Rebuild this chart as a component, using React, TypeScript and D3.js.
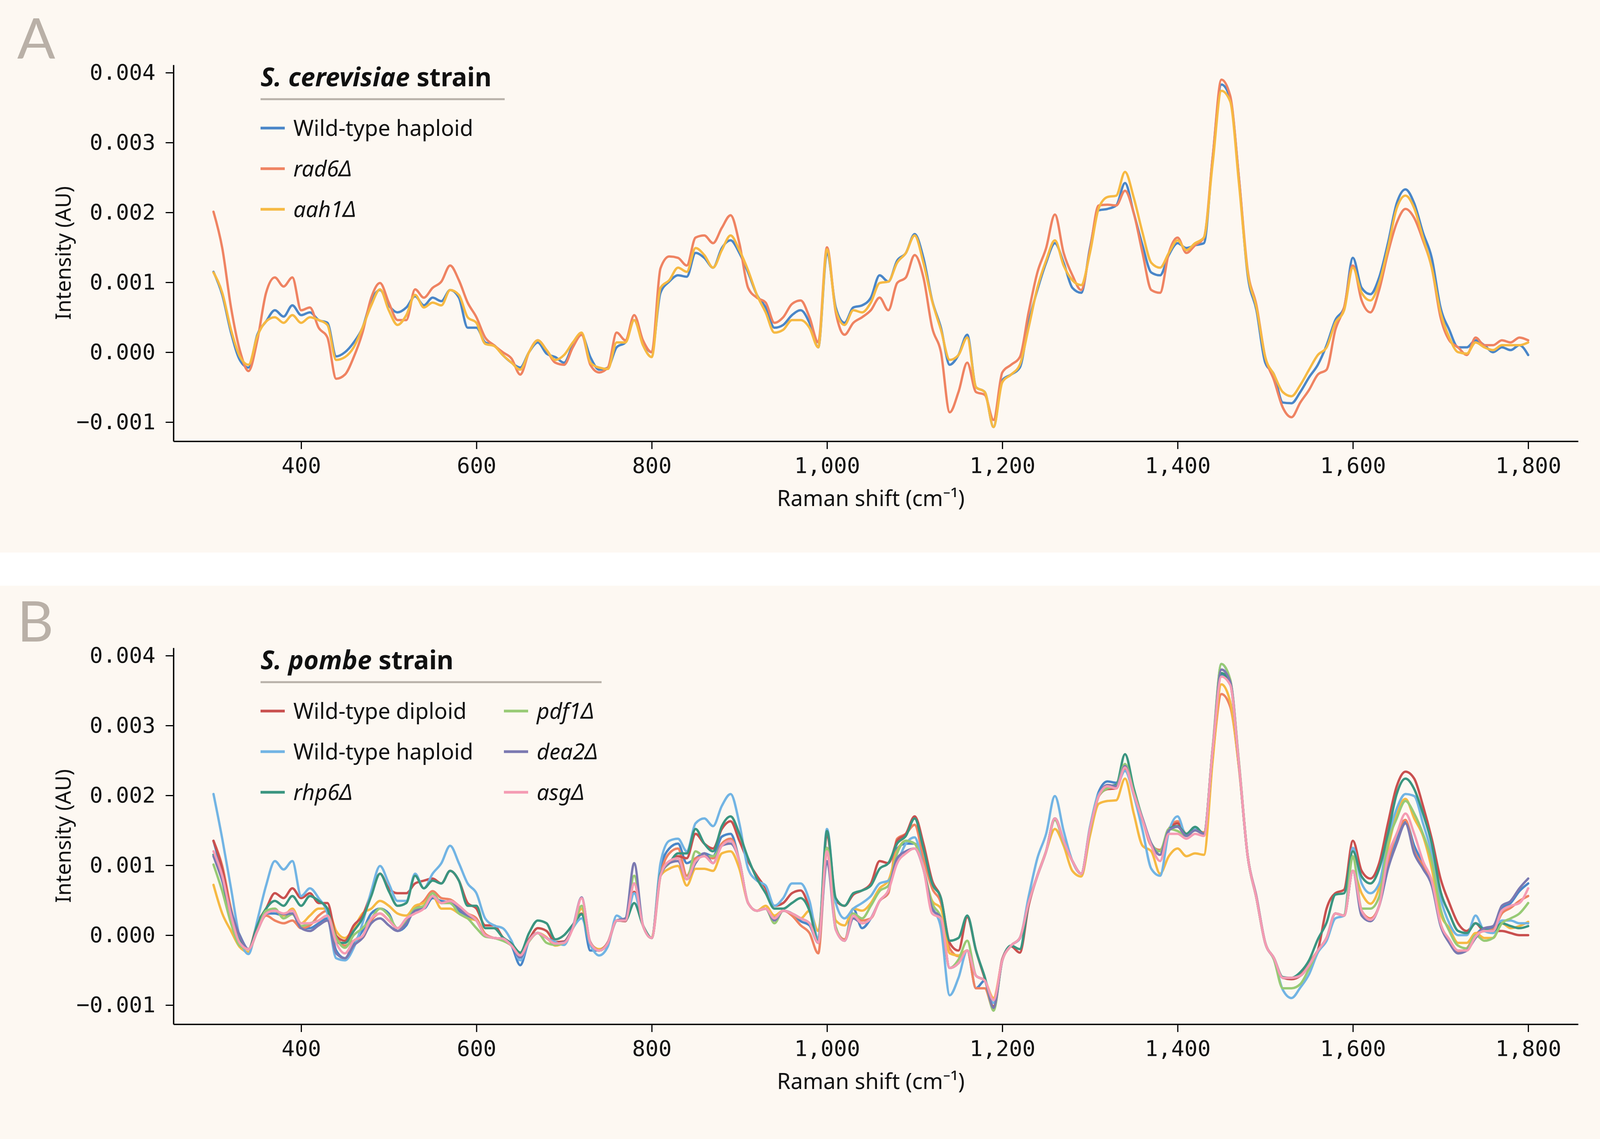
import React, { useEffect, useRef } from 'react';
import * as d3 from 'd3';

const WIDTH = 4167;
const HEIGHT = 2917;

// all intensities below are in units of 1e-4 AU
const AU = 1e-4;

// Raman shift grid (cm^-1), 300 .. 1800 every 10
const ramanShift = d3.range(300, 1801, 10);

const shiftTicks = [400, 600, 800, 1000, 1200, 1400, 1600, 1800];
const intensityTicks = [-0.001, 0, 0.001, 0.002, 0.003, 0.004];

// ---- S. cerevisiae ----
const cerWildHaploid = [
  11.5, 8.2, 2.8, -1.1, -2.2, 2.5, 4.4, 6.0, 5.1, 6.7,
  5.3, 5.7, 4.6, 4.2, -0.6, 0, 1.4, 3.5, 7.4, 8.9,
  6.7, 5.7, 6.4, 8.0, 6.7, 7.8, 7.3, 8.9, 7.8, 3.5,
  3.5, 1.4, 1.0, -0.4, -1.5, -2.2, 0, 1.4, -0.2, -0.7,
  -1.5, 1.0, 2.5, -0.7, -2.5, -2.2, 0.7, 1.4, 4.6, 1.4,
  0, 8.5, 10.1, 11.0, 10.8, 14.2, 13.5, 12.1, 14.9, 16.0,
  14.2, 11.4, 8.2, 6.4, 3.5, 3.9, 5.3, 6.0, 4.2, 0.7,
  14.2, 6.4, 4.2, 6.4, 6.7, 7.8, 11.0, 10.1, 13.1, 14.2,
  16.9, 13.5, 7.4, 3.5, -1.8, -0.4, 2.5, -5.0, -5.7, -10.7,
  -4.0, -3.2, -2.2, 4.2, 8.9, 12.8, 15.6, 12.8, 9.2, 8.5,
  14.9, 20.3, 20.5, 21.0, 24.2, 19.9, 15.3, 11.4, 11.0, 13.9,
  15.6, 14.9, 15.3, 15.6, 27.8, 38.3, 36.3, 24.9, 11.0, 6.0,
  -1.5, -3.2, -7.2, -7.3, -5.7, -3.6, -1.8, 1.0, 4.6, 6.4,
  13.5, 9.2, 8.3, 10.7, 15.6, 21.3, 23.3, 21.3, 17.1, 13.5,
  6.4, 3.2, 0.7, 0.7, 1.7, 1.0, 0, 0.7, 0.3, 1.0, -0.4,
];

const cerRad6 = [
  20.1, 14.9, 6.4, 0.3, -2.7, 1.7, 8.5, 10.7, 9.4, 10.7,
  6.0, 6.4, 3.5, 2.1, -3.8, -3.2, -0.7, 2.8, 7.8, 9.9,
  7.1, 4.6, 4.6, 9.0, 7.8, 9.2, 10.1, 12.4, 10.3, 7.1,
  5.0, 2.1, 1.0, 0, -0.9, -3.2, 0, 1.7, 0.3, -1.5,
  -1.8, 0.7, 2.5, -1.8, -2.9, -2.2, 2.8, 1.7, 5.3, 1.7,
  0, 12.0, 13.7, 13.5, 12.4, 16.4, 16.7, 15.6, 17.8, 19.6,
  15.6, 9.2, 7.8, 7.1, 4.2, 5.0, 6.9, 7.4, 5.0, 1.4,
  15.0, 5.7, 2.5, 4.2, 5.0, 6.0, 7.8, 6.0, 9.9, 10.7,
  13.9, 10.7, 3.5, 0, -8.6, -5.7, -1.5, -5.7, -6.1, -9.7,
  -2.9, -1.8, -0.7, 5.7, 11.4, 14.9, 19.7, 14.2, 11.0, 8.9,
  14.6, 21.0, 21.1, 21.0, 23.1, 19.9, 14.2, 8.9, 8.5, 14.2,
  16.4, 14.2, 15.3, 16.4, 27.8, 39.0, 36.7, 24.9, 11.7, 6.7,
  -0.7, -4.0, -7.9, -9.3, -7.2, -5.4, -3.2, -2.5, 3.2, 6.4,
  12.4, 7.4, 5.7, 8.9, 14.2, 18.5, 20.5, 19.2, 16.0, 12.1,
  5.0, 1.7, 0.7, -0.4, 2.1, 1.0, 1.0, 1.7, 1.4, 2.1, 1.7,
];

const cerAah1 = [
  11.4, 8.5, 3.2, -0.6, -1.8, 2.3, 4.4, 5.0, 4.2, 5.3,
  4.2, 5.0, 4.6, 3.9, -1.1, -0.7, 0.7, 3.5, 6.7, 9.0,
  6.0, 3.9, 5.3, 8.2, 6.4, 7.1, 6.7, 8.9, 8.2, 5.0,
  4.2, 1.2, 0.9, -0.4, -1.5, -2.5, 0, 1.7, 0.3, -1.1,
  -0.4, 1.4, 2.8, -1.5, -2.2, -2.4, 1.4, 1.4, 4.6, 1.0,
  -0.7, 9.2, 10.3, 12.1, 11.5, 14.9, 13.9, 12.1, 14.6, 16.7,
  14.6, 11.7, 8.2, 5.7, 2.8, 3.2, 4.6, 4.6, 3.5, 0.7,
  14.7, 6.0, 3.9, 6.0, 5.7, 7.1, 9.9, 10.1, 12.8, 14.2,
  16.7, 12.8, 7.3, 3.2, -1.1, -0.4, 2.1, -5.0, -5.7, -10.7,
  -4.3, -3.2, -1.8, 3.5, 9.2, 13.1, 16.0, 12.4, 10.3, 9.6,
  14.2, 20.6, 22.2, 22.4, 25.8, 22.1, 17.1, 12.8, 12.1, 14.2,
  16.0, 14.6, 15.6, 16.4, 27.0, 37.4, 35.9, 24.2, 11.4, 6.4,
  -0.7, -3.2, -5.7, -6.3, -4.7, -2.5, -0.4, 0.7, 4.2, 6.0,
  12.1, 8.5, 7.4, 9.9, 14.9, 20.6, 22.4, 20.6, 16.4, 12.1,
  5.7, 2.1, 0, -0.2, 1.4, 0.7, 0.3, 1.0, 1.0, 1.0, 1.4,
];

// ---- S. pombe ----
const pomExtraBlue = [
  13.5, 8.8, 3.1, 0, -2.0, 0.6, 3.1, 3.1, 2.8, 3.1,
  1.0, 1.0, 1.7, 2.4, -2.2, -3.3, -1.1, 0.6, 3.1, 3.8,
  3.1, 0.6, 1.4, 3.8, 3.8, 5.3, 4.9, 4.6, 3.5, 2.8,
  2.1, 0, -0.4, -0.5, -1.5, -4.3, -0.8, 0.3, -0.4, -1.2,
  -1.1, 1.0, 3.0, -2.2, -2.2, -1.1, 2.1, 2.1, 7.4, 1.4,
  -0.4, 9.5, 12.4, 13.1, 10.3, 11.0, 11.7, 11.3, 14.1, 14.5,
  10.6, 4.6, 3.5, 3.8, 2.5, 3.5, 3.1, 2.0, 1.4, -1.1,
  12.5, 1.0, -0.8, 3.8, 1.0, 2.4, 4.9, 6.4, 12.4, 13.1,
  13.1, 9.5, 3.8, 2.4, -4.7, -4.0, -2.2, -7.6, -6.5, -10.4,
  -3.6, -1.5, -0.4, 4.6, 8.5, 12.0, 16.7, 13.5, 10.6, 8.8,
  15.2, 20.5, 22.0, 21.8, 24.2, 20.2, 16.7, 13.1, 11.5, 15.2,
  16.0, 14.2, 15.2, 14.5, 26.6, 37.3, 36.3, 24.5, 11.3, 5.3,
  -1.1, -3.3, -6.1, -6.1, -5.8, -4.3, -2.2, -0.4, 3.1, 2.8,
  9.2, 3.2, 2.0, 4.2, 9.5, 13.5, 16.3, 12.8, 10.2, 7.5,
  1.4, -0.8, -2.6, -1.9, 0, 1.0, 1.0, 3.8, 4.6, 6.3, 7.4,
];

const pomExtraOrange = [
  13.5, 9.9, 3.8, -0.8, -2.0, 0.6, 2.8, 2.1, 1.7, 2.1,
  1.0, 1.4, 2.8, 3.5, -0.1, -1.5, -0.8, -0.4, 2.1, 3.1,
  2.1, 1.0, 2.1, 3.8, 4.9, 6.3, 5.3, 5.1, 4.2, 3.1,
  2.4, 0.2, -0.4, -0.6, -1.5, -2.9, -0.8, 0.3, -0.4, -1.3,
  -1.1, 1.0, 3.8, -1.1, -2.2, -1.1, 2.1, 2.1, 7.4, 1.4,
  -0.4, 8.5, 11.7, 12.4, 8.5, 11.0, 11.3, 11.0, 13.1, 13.8,
  10.6, 4.6, 3.5, 3.8, 2.4, 3.5, 2.8, 1.4, 0.3, -2.6,
  12.0, 1.0, -0.6, 2.8, 2.1, 2.4, 4.9, 6.0, 13.8, 14.5,
  15.8, 11.0, 6.7, 4.6, -1.9, -3.0, -2.2, -7.6, -7.6, -10.6,
  -3.6, -1.5, -0.4, 4.6, 8.5, 12.0, 16.7, 13.5, 10.6, 8.8,
  15.2, 19.9, 20.9, 21.0, 23.8, 20.2, 16.5, 12.8, 12.2, 15.2,
  16.3, 14.5, 15.0, 14.7, 25.5, 34.5, 32.7, 24.0, 11.3, 5.5,
  -1.1, -3.3, -6.1, -6.1, -5.5, -4.0, -2.2, -0.4, 3.1, 2.8,
  9.2, 3.5, 2.4, 4.2, 10.5, 14.5, 16.5, 12.0, 10.0, 7.5,
  1.7, -0.8, -2.4, -1.9, 0.2, 0.6, 0.8, 3.1, 3.9, 4.9, 5.6,
];

const pomExtraYellow = [
  7.2, 3.1, 0.6, -1.7, -2.4, 1.0, 3.5, 3.5, 2.8, 3.8,
  1.7, 2.8, 3.8, 3.8, 0.6, -0.4, 1.0, 3.1, 3.8, 4.9,
  4.2, 3.1, 2.8, 4.2, 4.6, 5.6, 3.8, 3.8, 3.1, 2.4,
  2.1, 0, -0.4, -0.5, -1.4, -2.6, -0.8, 0.3, -0.3, -1.5,
  -1.0, 1.0, 3.8, -1.1, -2.0, -1.1, 2.1, 2.1, 7.4, 1.4,
  -0.4, 8.5, 9.5, 9.9, 7.1, 9.5, 9.5, 9.2, 11.7, 12.0,
  9.5, 4.6, 3.5, 4.2, 2.8, 3.5, 3.1, 2.4, 3.5, 0.6,
  12.0, 2.1, 1.4, 3.8, 3.5, 4.6, 6.7, 7.8, 12.0, 13.5,
  13.1, 9.5, 4.9, 3.8, -2.6, -2.9, -2.2, -5.8, -6.5, -9.0,
  -3.6, -1.5, -0.4, 4.6, 8.5, 12.0, 15.2, 12.8, 9.2, 8.4,
  14.2, 18.8, 19.2, 19.3, 22.4, 17.4, 12.8, 12.0, 8.8, 11.3,
  12.4, 11.3, 11.7, 11.5, 24.9, 35.9, 33.4, 24.0, 11.3, 5.3,
  -1.1, -3.3, -6.1, -6.1, -5.8, -4.3, -2.2, -0.4, 3.1, 2.8,
  9.2, 6.0, 4.5, 6.8, 12.4, 17.4, 19.5, 16.7, 14.2, 9.5,
  3.1, 1.0, -1.1, -1.1, 0.3, -0.4, -0.4, 1.7, 1.0, 1.3, 1.9,
];

const pomWildDiploid = [
  13.5, 9.5, 3.1, -0.8, -2.0, 1.7, 3.8, 6.0, 5.3, 6.7,
  5.3, 6.0, 4.6, 4.6, -0.1, -0.8, 1.4, 2.8, 6.0, 8.8,
  6.7, 6.0, 6.0, 7.4, 7.8, 8.1, 7.4, 9.2, 7.8, 4.6,
  3.8, 1.4, 1.4, -0.3, -1.3, -2.7, -0.6, 1.0, 0.6, -1.0,
  -0.9, 1.0, 3.1, -1.0, -2.2, -1.0, 2.1, 2.0, 6.2, 1.4,
  -0.4, 8.8, 10.3, 11.3, 11.0, 14.5, 13.1, 12.4, 15.2, 16.3,
  13.5, 10.6, 8.5, 6.7, 4.2, 4.6, 6.0, 6.4, 3.8, -1.0,
  14.5, 5.0, 4.2, 5.8, 6.4, 7.4, 10.6, 10.3, 13.5, 14.5,
  17.0, 13.1, 7.8, 5.3, -1.1, -2.2, 2.6, -2.2, -6.2, -10.2,
  -3.4, -1.6, -2.5, 4.2, 8.5, 12.0, 16.7, 13.5, 10.6, 8.8,
  15.2, 19.9, 20.9, 21.0, 24.0, 20.2, 16.5, 13.1, 12.0, 15.0,
  16.0, 14.2, 15.0, 14.5, 26.6, 38.0, 36.3, 24.5, 11.3, 5.3,
  -1.1, -3.3, -6.1, -6.3, -5.8, -4.3, -2.2, 3.8, 6.0, 6.5,
  13.5, 9.2, 8.1, 10.3, 16.0, 21.3, 23.4, 22.4, 18.5, 13.8,
  8.1, 4.6, 1.7, 0.6, 1.7, 0.6, 0.6, 0.6, 0.3, 0, 0,
];

const pomWildHaploid = [
  20.2, 13.8, 6.7, -0.4, -2.7, 2.1, 7.1, 10.6, 9.4, 10.6,
  5.6, 6.7, 5.3, 3.1, -3.3, -3.6, -1.8, 1.7, 6.3, 9.9,
  7.4, 4.9, 4.9, 8.8, 6.7, 8.8, 10.3, 12.8, 10.3, 7.4,
  6.0, 2.4, 1.4, 1.0, -0.8, -3.6, -0.8, 0.3, -0.4, -1.0,
  -1.4, 1.0, 2.4, -1.4, -2.9, -1.6, 2.8, 2.1, 6.0, 1.4,
  -0.4, 10.3, 13.5, 13.8, 12.0, 16.0, 16.7, 15.6, 18.5, 20.2,
  16.0, 9.5, 7.8, 7.1, 4.2, 5.3, 7.4, 7.4, 4.9, -0.5,
  15.2, 4.6, 2.4, 3.8, 4.6, 5.6, 7.4, 7.8, 10.3, 13.1,
  14.0, 9.5, 4.2, 1.0, -8.6, -6.1, -2.2, -5.8, -6.5, -9.7,
  -3.6, -1.5, -0.5, 5.5, 11.0, 14.5, 19.9, 14.9, 10.6, 8.8,
  15.5, 20.2, 21.2, 21.3, 23.5, 20.0, 15.0, 9.5, 8.5, 14.8,
  17.0, 14.2, 15.2, 14.5, 26.6, 38.8, 36.3, 24.5, 11.3, 5.3,
  -1.1, -3.5, -7.8, -9.0, -7.5, -5.6, -2.5, -0.8, 2.4, 2.8,
  12.5, 7.4, 6.0, 7.4, 13.8, 18.1, 20.2, 19.9, 16.0, 11.7,
  5.3, 1.7, 0, 0, 2.8, 0.6, 0.3, 2.1, 2.1, 1.7, 1.7,
];

const pomRhp6 = [
  11.5, 7.8, 2.4, -0.9, -2.0, 1.4, 3.8, 4.9, 4.2, 5.6,
  4.2, 5.6, 4.9, 3.8, -1.1, -1.1, 0.6, 2.4, 5.6, 8.8,
  6.3, 4.2, 4.6, 8.5, 6.7, 7.8, 7.4, 9.2, 7.8, 4.2,
  4.2, 1.0, 1.0, -0.3, -1.2, -2.5, 0.3, 2.1, 1.7, -0.6,
  0, 1.5, 3.0, -1.1, -2.2, -1.1, 2.1, 2.1, 4.6, 1.4,
  -0.4, 8.8, 10.3, 11.7, 11.7, 15.2, 13.1, 12.0, 15.6, 17.0,
  14.5, 11.0, 8.1, 6.0, 3.8, 3.8, 4.6, 5.3, 3.5, -1.0,
  14.9, 5.3, 4.2, 6.0, 6.4, 7.1, 9.5, 10.3, 13.1, 14.2,
  16.7, 12.4, 7.4, 5.3, -0.8, -0.4, 2.8, -2.2, -6.0, -10.4,
  -3.6, -1.5, -2.0, 4.6, 8.5, 12.0, 16.7, 13.5, 10.6, 8.8,
  15.2, 19.9, 21.3, 21.5, 25.9, 21.0, 16.7, 13.1, 12.0, 15.2,
  15.6, 14.5, 15.5, 14.5, 26.6, 37.5, 36.0, 24.5, 11.3, 5.3,
  -1.1, -3.3, -6.0, -6.1, -5.3, -3.6, -0.6, 1.8, 5.8, 6.0,
  12.0, 8.4, 7.4, 9.5, 14.5, 20.2, 22.4, 20.9, 17.4, 13.1,
  6.3, 3.1, 0.6, 0.3, 1.7, 0.8, 0.6, 1.7, 1.3, 1.0, 1.3,
];

const pomPdf1 = [
  10.1, 6.3, 1.7, -1.5, -2.0, 0.6, 3.5, 3.8, 2.4, 3.0,
  1.3, 1.7, 2.1, 2.8, -0.4, -1.8, 0, 1.0, 2.4, 3.8,
  2.8, 1.0, 2.1, 3.8, 4.2, 6.0, 4.6, 4.6, 3.1, 2.4,
  1.0, -0.2, -0.4, -0.8, -1.5, -2.9, -0.9, 0.3, -1.1, -1.4,
  -1.1, 1.0, 4.2, -1.1, -2.2, -1.1, 2.1, 2.4, 8.5, 1.4,
  -0.4, 8.5, 10.3, 11.0, 8.0, 12.0, 11.3, 11.3, 12.8, 13.5,
  10.6, 4.6, 3.5, 3.8, 1.7, 3.5, 3.1, 2.4, 1.7, -1.1,
  12.5, 1.2, -0.8, 3.1, 2.4, 4.2, 6.3, 7.1, 11.7, 13.5,
  13.1, 9.5, 4.6, 2.4, -4.7, -3.5, -0.8, -5.8, -6.5, -10.8,
  -3.6, -1.5, -0.4, 4.6, 8.5, 12.0, 16.5, 13.3, 10.6, 8.8,
  15.0, 19.9, 21.0, 21.3, 24.5, 20.5, 16.7, 13.1, 12.0, 15.2,
  14.9, 14.2, 15.0, 14.5, 26.8, 38.8, 36.6, 24.8, 11.3, 5.3,
  -1.1, -3.5, -7.6, -7.6, -7.0, -4.8, -2.2, -0.4, 3.1, 2.8,
  11.3, 3.8, 3.8, 5.5, 13.1, 16.7, 19.2, 17.4, 14.5, 10.6,
  3.8, 0.6, -1.5, -1.9, 0, -0.8, -0.4, 1.7, 2.4, 3.1, 4.6,
];

const pomDea2 = [
  11.3, 7.8, 3.5, -0.1, -2.0, 0.6, 3.1, 3.5, 3.0, 3.1,
  1.0, 0.6, 1.4, 2.1, -2.6, -3.3, -1.5, -0.4, 1.7, 2.4,
  1.4, 0.6, 1.7, 3.5, 3.8, 5.6, 4.6, 4.9, 3.8, 2.8,
  2.1, 0, -0.4, -0.5, -1.5, -3.2, -0.8, 0.3, -0.4, -1.2,
  -1.0, 1.2, 5.4, -1.1, -2.2, -1.1, 2.1, 2.4, 10.3, 1.4,
  -0.4, 8.5, 10.3, 10.6, 8.0, 10.3, 11.7, 10.3, 12.8, 13.1,
  10.6, 4.6, 3.5, 3.8, 2.1, 3.5, 3.1, 2.4, 1.7, -1.1,
  10.6, 0.8, -0.8, 2.4, 1.7, 2.4, 4.9, 6.4, 11.0, 12.0,
  12.4, 9.5, 3.8, 2.4, -4.7, -4.0, -2.2, -5.8, -6.5, -10.4,
  -3.6, -1.5, -0.4, 4.6, 8.5, 12.0, 16.7, 13.5, 10.6, 8.8,
  15.2, 19.9, 21.5, 21.3, 24.2, 20.2, 16.7, 13.1, 11.5, 15.0,
  15.5, 14.2, 15.0, 14.5, 26.6, 38.0, 36.3, 24.5, 11.3, 5.5,
  -1.1, -3.3, -6.1, -6.1, -5.8, -4.3, -2.2, -0.4, 3.1, 2.8,
  9.2, 2.8, 2.0, 4.2, 9.5, 13.1, 16.0, 11.7, 9.5, 7.1,
  1.4, -1.1, -2.6, -2.2, -0.4, 1.0, 1.3, 4.2, 4.9, 6.7, 8.1,
];

const pomAsg = [
  12.0, 8.5, 2.8, -1.1, -2.0, 0.6, 3.1, 3.5, 3.1, 3.5,
  1.7, 1.7, 2.1, 2.8, -1.1, -2.6, -0.8, -0.1, 2.4, 3.1,
  2.1, 1.0, 2.4, 3.1, 3.8, 5.6, 4.6, 4.9, 4.2, 3.1,
  2.1, 0, -0.4, -0.5, -1.5, -2.9, -0.8, 0.3, -0.4, -1.2,
  -1.1, 1.0, 5.3, -1.1, -2.2, -1.1, 2.1, 2.1, 7.4, 1.4,
  -0.4, 8.5, 10.6, 11.0, 8.0, 10.6, 11.3, 10.3, 12.8, 13.5,
  10.6, 4.6, 3.5, 3.8, 2.4, 3.5, 3.1, 2.4, 1.7, -1.1,
  12.0, 0.8, -0.8, 2.8, 1.7, 2.4, 4.9, 6.4, 10.3, 11.7,
  12.4, 9.5, 3.1, 2.4, -4.7, -4.0, -2.2, -5.8, -6.5, -9.3,
  -3.6, -1.5, -0.4, 4.6, 8.5, 12.0, 16.7, 13.5, 10.6, 8.8,
  15.2, 19.9, 21.3, 21.0, 24.0, 20.2, 16.5, 12.8, 10.6, 14.5,
  14.5, 13.8, 14.5, 14.2, 26.5, 37.0, 35.8, 24.5, 11.3, 5.3,
  -1.1, -3.3, -6.1, -6.1, -5.8, -4.3, -2.2, -0.4, 3.1, 2.8,
  9.2, 3.5, 2.2, 4.2, 11.3, 14.5, 17.4, 14.5, 10.6, 7.8,
  1.7, -0.6, -2.2, -2.2, -0.2, 0.6, 0.6, 3.5, 4.2, 4.6, 6.7,
];

interface Series {
  values: number[];
  color: string;
}

interface LegendItem {
  label: string;
  italic: boolean;
  color: string;
}

const BG = '#fdf8f2';
const RULE = '#b8b1a9';
const SANS = "'Noto Sans', 'Open Sans', sans-serif";
const MONO = "'DejaVu Sans Mono', 'Liberation Mono', monospace";

const panelA = {
  letter: 'A',
  titleItalic: 'S. cerevisiae',
  series: [
    { values: cerWildHaploid, color: '#4a86c8' },
    { values: cerRad6, color: '#ef8362' },
    { values: cerAah1, color: '#f6b943' },
  ] as Series[],
  legend: [
    [
      { label: 'Wild-type haploid', italic: false, color: '#4a86c8' },
      { label: 'rad6Δ', italic: true, color: '#ef8362' },
      { label: 'aah1Δ', italic: true, color: '#f6b943' },
    ],
  ] as LegendItem[][],
  ruleEnd: 1292,
};

const panelB = {
  letter: 'B',
  titleItalic: 'S. pombe',
  series: [
    { values: pomExtraBlue, color: '#4a86c8' },
    { values: pomExtraOrange, color: '#ef8362' },
    { values: pomExtraYellow, color: '#f6b943' },
    { values: pomWildDiploid, color: '#c9504f' },
    { values: pomWildHaploid, color: '#72b4e4' },
    { values: pomRhp6, color: '#3a9580' },
    { values: pomPdf1, color: '#98ca75' },
    { values: pomDea2, color: '#7b79b1' },
    { values: pomAsg, color: '#f59bb3' },
  ] as Series[],
  legend: [
    [
      { label: 'Wild-type diploid', italic: false, color: '#c9504f' },
      { label: 'Wild-type haploid', italic: false, color: '#72b4e4' },
      { label: 'rhp6Δ', italic: true, color: '#3a9580' },
    ],
    [
      { label: 'pdf1Δ', italic: true, color: '#98ca75' },
      { label: 'dea2Δ', italic: true, color: '#7b79b1' },
      { label: 'asgΔ', italic: true, color: '#f59bb3' },
    ],
  ] as LegendItem[][],
  ruleEnd: 1540,
};

type PanelDef = typeof panelA;

const Panel: React.FC<{ def: PanelDef; offset: number }> = ({ def, offset }) => {
  const xAxisRef = useRef<SVGGElement>(null);
  const yAxisRef = useRef<SVGGElement>(null);

  const x = d3.scaleLinear().domain([254.3, 1857]).range([444, 4040]);
  const y = d3.scaleLinear().domain([-0.001274, 0.004112]).range([1130, 166]);

  useEffect(() => {
    const gx = d3.select(xAxisRef.current);
    gx.selectAll('*').remove();
    gx.call(
      d3.axisBottom(x)
        .tickValues(shiftTicks)
        .tickFormat(d3.format(','))
        .tickSize(20)
        .tickPadding(21)
        .tickSizeOuter(0)
    );
    gx.attr('font-family', MONO).attr('font-size', 56);
    gx.select('.domain').attr('stroke-width', 3.5);
    gx.selectAll('.tick line').attr('stroke-width', 3);
    gx.selectAll('.tick text').attr('fill', '#111');

    const gy = d3.select(yAxisRef.current);
    gy.selectAll('*').remove();
    gy.call(
      d3.axisLeft(y)
        .tickValues(intensityTicks)
        .tickFormat(d3.format('.3f'))
        .tickSize(20)
        .tickPadding(26)
        .tickSizeOuter(0)
    );
    gy.attr('font-family', MONO).attr('font-size', 56);
    gy.select('.domain').attr('stroke-width', 3.5);
    gy.selectAll('.tick line').attr('stroke-width', 3);
    gy.selectAll('.tick text').attr('fill', '#111');
  }, []);

  const line = d3.line<number>()
    .x((_, i) => x(ramanShift[i]))
    .y(d => y(d * AU))
    .curve(d3.curveMonotoneX);

  return (
    <g transform={`translate(0,${offset})`}>
      <text x={44} y={150} fontFamily="Lato, 'Noto Sans', sans-serif" fontSize={144} fill="#b9b0a7">{def.letter}</text>

      {def.series.map((s, i) => (
        <path key={i} d={line(s.values) ?? ''} fill="none" stroke={s.color}
          strokeWidth={6} strokeLinejoin="round" strokeLinecap="round" />
      ))}

      <g ref={xAxisRef} transform="translate(0,1130)" />
      <g ref={yAxisRef} transform="translate(444,0)" />

      <text x={x(1050)} y={1296} textAnchor="middle" fontFamily={SANS} fontSize={56} fill="#111">
        Raman shift (cm⁻¹)
      </text>
      <text transform={`translate(160,648) rotate(-90)`} textAnchor="middle" dominantBaseline="central"
        fontFamily={SANS} fontSize={54} fill="#111">
        Intensity (AU)
      </text>

      <g fontFamily={SANS}>
        <text x={667} y={221} fontSize={66} fontWeight={700} fill="#111">
          <tspan fontStyle="italic">{def.titleItalic}</tspan> strain
        </text>
        <line x1={667} x2={def.ruleEnd} y1={254} y2={254} stroke={RULE} strokeWidth={5} />
        {def.legend.map((col, ci) => col.map((item, ri) => {
          const lx = 667 + ci * 623;
          const ly = 328 + ri * 104;
          return (
            <g key={`${ci}-${ri}`}>
              <line x1={lx} x2={lx + 62} y1={ly} y2={ly} stroke={item.color} strokeWidth={7} />
              <text x={lx + 84} y={ly + 20} fontSize={56} fill="#111"
                fontStyle={item.italic ? 'italic' : 'normal'}>{item.label}</text>
            </g>
          );
        }))}
      </g>
    </g>
  );
};

export default function App() {
  return (
    <div style={{ position: 'absolute', left: 0, top: 0 }}>
      <svg width={WIDTH} height={HEIGHT} style={{ display: 'block', background: '#ffffff' }}>
        <rect x={0} y={0} width={WIDTH} height={1415} fill={BG} />
        <rect x={0} y={1500} width={WIDTH} height={HEIGHT - 1500} fill={BG} />
        <Panel def={panelA} offset={0} />
        <Panel def={panelB as PanelDef} offset={1493} />
      </svg>
    </div>
  );
}
